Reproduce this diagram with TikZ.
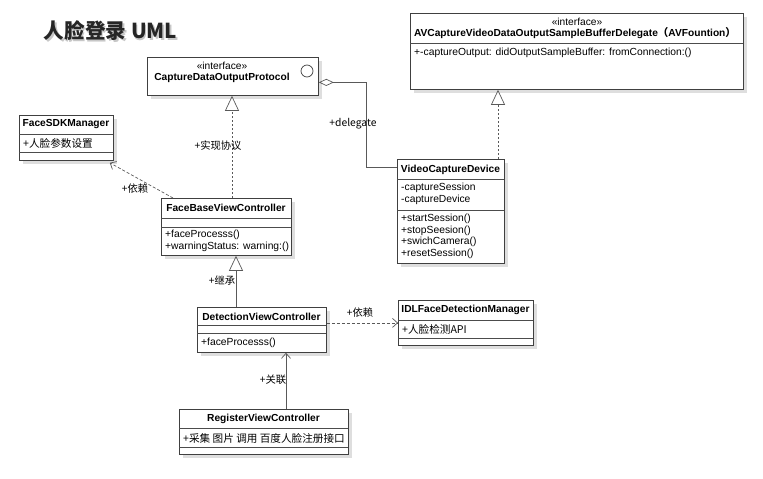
\documentclass[tikz,border=0pt]{standalone}
\usepackage{fontspec}
\setmainfont{Liberation Sans}
\newfontfamily\cjk[Scale=1.03]{Noto Sans CJK SC}
\usetikzlibrary{arrows.meta,shadows}
\tikzset{
  cls/.style={draw=black!75, fill=white, line width=0.8pt, anchor=north west, inner sep=0pt,
    drop shadow={shadow xshift=4pt, shadow yshift=-4pt, fill=black!16, opacity=0.8}},
  sepline/.style={draw=black!70, line width=0.6pt},
  txt/.style={anchor=west, inner sep=0pt, font=\fontsize{10.3}{11}\selectfont},
  ttl/.style={anchor=center, inner sep=0pt, font=\bfseries\fontsize{10.2}{11}\selectfont},
  ster/.style={anchor=center, inner sep=0pt, font=\fontsize{10.2}{11}\selectfont},
  lbl/.style={anchor=center, inner sep=0pt, font=\cjk\fontsize{10}{11}\selectfont},
  conn/.style={draw=black!65, line width=0.7pt},
  dep/.style={conn, dash pattern=on 3pt off 2pt, -{Straight Barb[length=5pt,width=9pt]}},
  assoc/.style={conn, -{Straight Barb[length=5pt,width=9pt]}},
  real/.style={conn, dash pattern=on 2pt off 2pt, -{Triangle[open,length=15pt,width=14pt]}},
  gen/.style={conn, -{Triangle[open,length=15pt,width=14pt]}},
  aggr/.style={conn, {Diamond[open,length=15pt,width=7pt]}-},
}
\begin{document}
\begin{tikzpicture}[x=1pt,y=-1pt]
\useasboundingbox (0,0) rectangle (763,479);

% title
\node[inner sep=0pt, text=black!22, font=\cjk\bfseries\fontsize{20}{22}\selectfont] (titles) at (112,32.5) {人脸登录 UML};
\node[inner sep=0pt, text=black!85, font=\cjk\bfseries\fontsize{20}{22}\selectfont] (title) at (110.5,31) {人脸登录 UML};

% boxes
\node[cls, minimum width=94pt, minimum height=45pt] (fsdk) at (19,115) {};
\node[cls, minimum width=171pt, minimum height=38pt] (cdop) at (147,57) {};
\node[cls, minimum width=333pt, minimum height=76pt] (av) at (410,13) {};
\node[cls, minimum width=107pt, minimum height=104pt] (vcd) at (397,159) {};
\node[cls, minimum width=130pt, minimum height=57pt] (fbvc) at (161,198) {};
\node[cls, minimum width=129pt, minimum height=45pt] (dvc) at (197,307) {};
\node[cls, minimum width=135pt, minimum height=45pt] (idl) at (398,300) {};
\node[cls, minimum width=169pt, minimum height=45pt] (rvc) at (179,409) {};

% separators
\draw[sepline] (19,134.5) -- (113,134.5) (19,152.5) -- (113,152.5);
\draw[sepline] (410,43) -- (743,43);
\draw[sepline] (397,179) -- (504,179) (397,210) -- (504,210);
\draw[sepline] (161,218) -- (291,218) (161,227) -- (291,227);
\draw[sepline] (197,325) -- (326,325) (197,333) -- (326,333);
\draw[sepline] (398,320) -- (533,320) (398,338) -- (533,338);
\draw[sepline] (179,428) -- (348,428) (179,447) -- (348,447);

% texts
\node[ttl] (fsdkn) at (66,124.5) {FaceSDKManager};
\node[txt] (fsdka) at (23,143.5) {\cjk +人脸参数设置};

\node[ster] (cdops) at (222,65.5) {«interface»};
\node[ttl] (cdopn) at (222,77.5) {CaptureDataOutputProtocol};
\node[draw=black!75, line width=0.7pt, circle, minimum size=12pt, inner sep=0pt] (cdopc) at (307,71) {};

\node[ster] (avs) at (577,21.5) {«interface»};
\node[ttl] (avn) at (575,33.5) {AVCaptureVideoDataOutputSampleBufferDelegate{\cjk\bfseries （}AVFountion{\cjk\bfseries ）}};
\node[txt] (avm) at (414,52.5) {+-captureOutput: didOutputSampleBuffer: fromConnection:()};

\node[ttl] (vcdn) at (450.5,169.5) {VideoCaptureDevice};
\node[txt] (vcda1) at (401,188) {-captureSession};
\node[txt] (vcda2) at (401,200) {-captureDevice};
\node[txt] (vcdm1) at (401,219) {+startSession()};
\node[txt] (vcdm2) at (401,230.5) {+stopSeesion()};
\node[txt] (vcdm3) at (401,242) {+swichCamera()};
\node[txt] (vcdm4) at (401,253.5) {+resetSession()};

\node[ttl] (fbvcn) at (226,208) {FaceBaseViewController};
\node[txt] (fbvcm1) at (165,235) {+faceProcesss()};
\node[txt] (fbvcm2) at (165,246.5) {+warningStatus: warning:()};

\node[ttl] (dvcn) at (261.5,316.5) {DetectionViewController};
\node[txt] (dvcm) at (201,342.5) {+faceProcesss()};

\node[ttl] (idln) at (465.5,310) {IDLFaceDetectionManager};
\node[txt] (idla) at (402,329) {\cjk +人脸检测API};

\node[ttl] (rvcn) at (263.5,418.5) {RegisterViewController};
\node[txt] (rvca) at (183,438) {\cjk +采集 图片 调用 百度人脸注册接口};

% connectors
\draw[aggr] ([yshift=-6pt]cdop.east) -- ++(48,0) |- ([yshift=-8pt]vcd.north west);
\coordinate (vcdtop) at ([xshift=101pt]vcd.north west);
\draw[real] (vcdtop) -- (vcdtop |- av.south);
\coordinate (fbtop) at ([xshift=71pt]fbvc.north west);
\draw[real] (fbtop) -- (fbtop |- cdop.south);
\draw[dep] ([xshift=12pt]fbvc.north west) -- ([xshift=-4pt,yshift=-2pt]fsdk.south east);
\coordinate (dvtop) at ([xshift=39pt]dvc.north west);
\draw[gen] (dvtop) -- (dvtop |- fbvc.south);
\draw[dep] (dvc.east |- idl.west) -- (idl.west);
\coordinate (rvtop) at ([xshift=107pt]rvc.north west);
\draw[assoc] (rvtop) -- (rvtop |- dvc.south);

% connector labels
\node[lbl] (l1) at (353,123.5) {+delegate};
\node[lbl] (l2) at (218,146) {+实现协议};
\node[lbl] (l3) at (135,189) {+依赖};
\node[lbl] (l4) at (222,280.5) {+继承};
\node[lbl] (l5) at (360,313) {+依赖};
\node[lbl] (l6) at (273,380) {+关联};
\end{tikzpicture}
\end{document}
